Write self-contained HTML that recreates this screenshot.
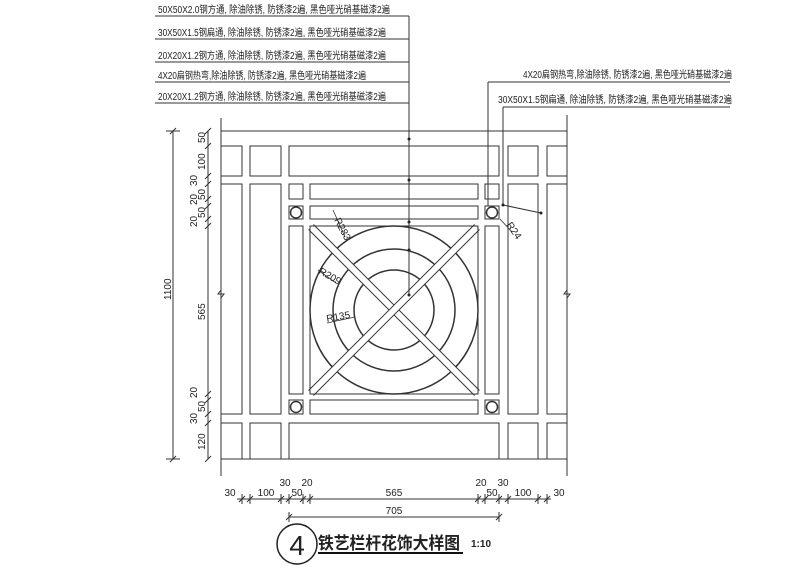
<!DOCTYPE html>
<html><head><meta charset="utf-8"><style>
html,body{margin:0;padding:0;background:#fff;}
svg{display:block;}
text{font-family:"Liberation Sans","Noto Sans CJK SC",sans-serif;fill:#222;}
</style></head><body>
<svg width="800" height="569" viewBox="0 0 800 569" xmlns="http://www.w3.org/2000/svg">
<g fill="none" stroke="#333" stroke-width="1">
<line x1="221" y1="118" x2="221" y2="476"/>
<line x1="567" y1="115" x2="567" y2="476"/>
<line x1="221" y1="131" x2="567" y2="131"/>
<line x1="221" y1="459" x2="567" y2="459"/>
<rect x="221" y="146" width="21" height="30"/>
<rect x="250" y="146" width="31" height="30"/>
<rect x="289" y="146" width="210" height="30"/>
<rect x="508" y="146" width="30" height="30"/>
<rect x="547" y="146" width="20" height="30"/>
<rect x="221" y="423" width="21" height="36"/>
<rect x="250" y="423" width="31" height="36"/>
<rect x="289" y="423" width="210" height="36"/>
<rect x="508" y="423" width="30" height="36"/>
<rect x="547" y="423" width="20" height="36"/>
<rect x="221" y="184" width="21" height="230"/>
<rect x="250" y="184" width="31" height="230"/>
<rect x="508" y="184" width="30" height="230"/>
<rect x="547" y="184" width="20" height="230"/>
<rect x="289" y="184" width="14" height="15"/>
<rect x="485" y="184" width="14" height="15"/>
<rect x="310" y="184" width="168" height="15"/>
<rect x="289" y="206" width="14" height="13"/>
<rect x="485" y="206" width="14" height="13"/>
<rect x="310" y="206" width="168" height="13"/>
<rect x="289" y="226" width="14" height="168"/>
<rect x="485" y="226" width="14" height="168"/>
<rect x="289" y="400" width="14" height="14"/>
<rect x="485" y="400" width="14" height="14"/>
<rect x="310" y="400" width="168" height="14"/>
<circle cx="296" cy="212.5" r="5.5" stroke-width="1.5"/>
<circle cx="492" cy="212.5" r="5.5" stroke-width="1.5"/>
<circle cx="296" cy="407" r="5.5" stroke-width="1.5"/>
<circle cx="492" cy="407" r="5.5" stroke-width="1.5"/>
<rect x="310" y="226" width="168" height="168"/>
<circle cx="394" cy="310" r="84" stroke-width="1.5"/>
<circle cx="394" cy="310" r="61" stroke-width="1.5"/>
<circle cx="394" cy="310" r="40" stroke-width="1.5"/>
</g>
<g stroke-linecap="butt">
<line x1="311" y1="227" x2="477" y2="393" stroke="#333" stroke-width="8"/>
<line x1="311" y1="227" x2="477" y2="393" stroke="#fff" stroke-width="6"/>
<line x1="477" y1="227" x2="311" y2="393" stroke="#333" stroke-width="8"/>
<line x1="477" y1="227" x2="311" y2="393" stroke="#fff" stroke-width="6"/>
</g>
<rect x="310" y="226" width="168" height="168" fill="none" stroke="#333"/>
<g stroke="#333" fill="none" stroke-width="0.8">
<line x1="333" y1="210" x2="345" y2="237"/>
<line x1="318" y1="270" x2="336" y2="283"/>
<line x1="327" y1="323" x2="355" y2="317"/>
<line x1="500" y1="219" x2="512" y2="232"/>
</g>
<text x="334" y="220" font-size="10" transform="rotate(62 334 220)">R283</text>
<text x="318" y="273" font-size="10" transform="rotate(30 318 273)">R209</text>
<text x="327" y="322" font-size="10" transform="rotate(-10 327 322)">R135</text>
<text x="506" y="225" font-size="10" transform="rotate(55 506 225)">R24</text>
<g stroke="#333" stroke-width="1" fill="none">
<line x1="155" y1="16" x2="409" y2="16"/>
<line x1="155" y1="39" x2="409" y2="39"/>
<line x1="155" y1="62" x2="409" y2="62"/>
<line x1="155" y1="82" x2="409" y2="82"/>
<line x1="155" y1="103" x2="409" y2="103"/>
<line x1="409" y1="16" x2="409" y2="296"/>
<line x1="488" y1="82" x2="730" y2="82"/>
<line x1="503" y1="107" x2="730" y2="107"/>
<line x1="488" y1="82" x2="488" y2="206"/>
<line x1="503" y1="107" x2="503" y2="205"/>
<line x1="503" y1="205" x2="541" y2="213"/>
</g>
<g fill="#222">
<circle cx="409" cy="139" r="1.5"/><circle cx="409" cy="180" r="1.5"/><circle cx="409" cy="222" r="1.5"/><circle cx="409" cy="250" r="1.5"/><circle cx="409" cy="295" r="1.5"/>
<circle cx="503" cy="205" r="1.5"/><circle cx="541" cy="213" r="1.5"/>
</g>
<g font-size="10">
<text x="158" y="13" textLength="232" lengthAdjust="spacingAndGlyphs">50X50X2.0钢方通, 除油除锈, 防锈漆2遍, 黑色哑光硝基磁漆2遍</text>
<text x="158" y="36" textLength="228" lengthAdjust="spacingAndGlyphs">30X50X1.5钢扁通, 除油除锈, 防锈漆2遍, 黑色哑光硝基磁漆2遍</text>
<text x="158" y="59" textLength="228" lengthAdjust="spacingAndGlyphs">20X20X1.2钢方通, 除油除锈, 防锈漆2遍, 黑色哑光硝基磁漆2遍</text>
<text x="158" y="79" textLength="208" lengthAdjust="spacingAndGlyphs">4X20扁钢热弯,除油除锈, 防锈漆2遍, 黑色哑光硝基磁漆2遍</text>
<text x="158" y="100" textLength="228" lengthAdjust="spacingAndGlyphs">20X20X1.2钢方通, 除油除锈, 防锈漆2遍, 黑色哑光硝基磁漆2遍</text>
<text x="523" y="78" textLength="209" lengthAdjust="spacingAndGlyphs">4X20扁钢热弯,除油除锈, 防锈漆2遍, 黑色哑光硝基磁漆2遍</text>
<text x="498" y="103" textLength="234" lengthAdjust="spacingAndGlyphs">30X50X1.5钢扁通, 除油除锈, 防锈漆2遍, 黑色哑光硝基磁漆2遍</text>
</g>
<g stroke="#333" stroke-width="1" fill="none">
<line x1="173" y1="131" x2="173" y2="459"/>
<line x1="166" y1="131" x2="180" y2="131"/>
<line x1="166" y1="459" x2="180" y2="459"/>
<line x1="208" y1="131" x2="208" y2="459"/>
<path d="M205 134l6-6M205 149l6-6M205 179l6-6M205 187l6-6M205 202l6-6M205 209l6-6M205 222l6-6M205 229l6-6M205 397l6-6M205 403l6-6M205 417l6-6M205 426l6-6M205 462l6-6M170 134l6-6M170 462l6-6"/>
<path d="M221 290l-3 4 6 0-3 4M567 290l-3 4 6 0-3 4"/>
</g>
<g font-size="10">
<text transform="translate(171 300) rotate(-90)">1100</text>
<text transform="translate(205 320) rotate(-90)">565</text>
<text transform="translate(205 143) rotate(-90)">50</text>
<text transform="translate(205 170) rotate(-90)">100</text>
<text transform="translate(197 186) rotate(-90)">30</text>
<text transform="translate(205 200) rotate(-90)">50</text>
<text transform="translate(197 205) rotate(-90)">20</text>
<text transform="translate(205 218) rotate(-90)">50</text>
<text transform="translate(197 227) rotate(-90)">20</text>
<text transform="translate(197 398) rotate(-90)">20</text>
<text transform="translate(205 412) rotate(-90)">50</text>
<text transform="translate(197 424) rotate(-90)">30</text>
<text transform="translate(205 450) rotate(-90)">120</text>
</g>
<g stroke="#333" stroke-width="1" fill="none">
<line x1="237" y1="499" x2="551" y2="499"/>
<path d="M239 502l6-6M247 502l6-6M278 502l6-6M286 502l6-6M300 502l6-6M307 502l6-6M475 502l6-6M482 502l6-6M496 502l6-6M505 502l6-6M535 502l6-6M544 502l6-6"/>
<path d="M242 494v10M250 494v10M281 494v10M289 494v10M303 494v10M310 494v10M478 494v10M485 494v10M499 494v10M508 494v10M538 494v10M547 494v10"/>
<line x1="289" y1="517" x2="499" y2="517"/>
<path d="M286 520l6-6M496 520l6-6M289 512v10M499 512v10"/>
</g>
<g font-size="10" text-anchor="middle">
<text x="230" y="496">30</text>
<text x="266" y="496">100</text>
<text x="285" y="486">30</text>
<text x="297" y="496">50</text>
<text x="307" y="486">20</text>
<text x="394" y="496">565</text>
<text x="481" y="486">20</text>
<text x="492" y="496">50</text>
<text x="503" y="486">30</text>
<text x="523" y="496">100</text>
<text x="559" y="496">30</text>
<text x="394" y="514">705</text>
</g>
<circle cx="297" cy="544" r="20" fill="none" stroke="#222" stroke-width="1.5"/>
<text x="297" y="555" font-size="28" text-anchor="middle" fill="#555">4</text>
<text x="318" y="549" font-size="17" font-weight="bold" fill="#111" textLength="142" lengthAdjust="spacingAndGlyphs">铁艺栏杆花饰大样图</text>
<line x1="318" y1="553" x2="463" y2="553" stroke="#111" stroke-width="2"/>
<text x="471" y="547" font-size="10" font-weight="bold">1:10</text>
</svg>
</body></html>
